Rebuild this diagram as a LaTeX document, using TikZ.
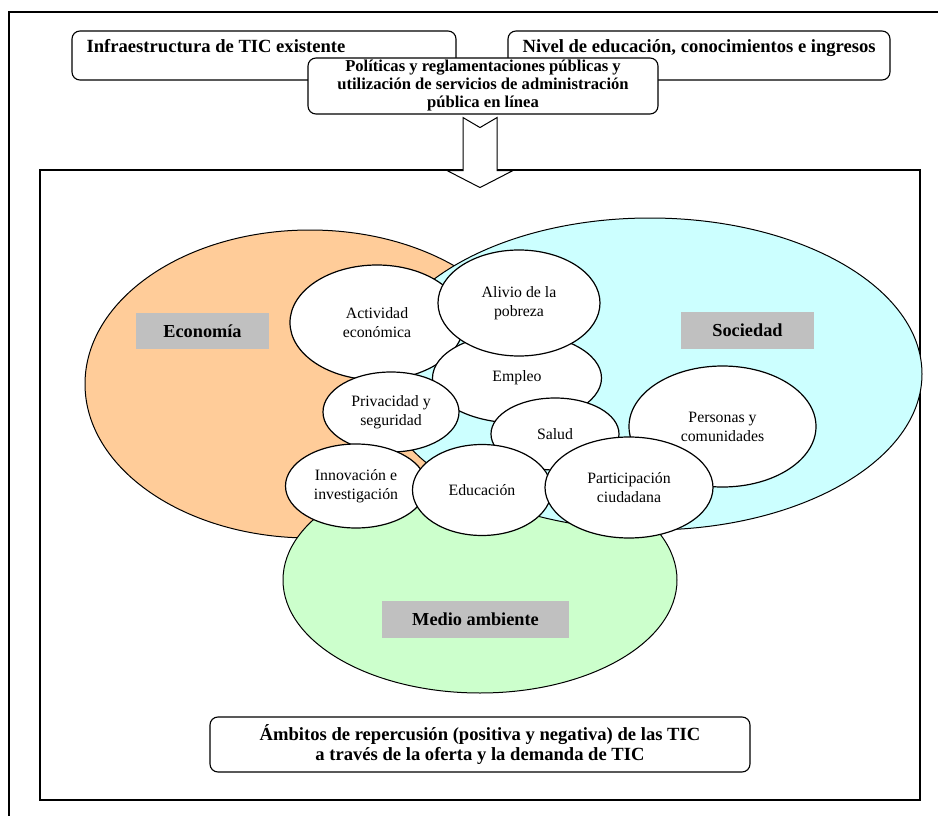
\documentclass[tikz,border=0pt]{standalone}
\usepackage{fontspec}
\setmainfont{Liberation Serif}
\usetikzlibrary{shapes.geometric,calc}
\definecolor{econorange}{HTML}{FFCC99}
\definecolor{socblue}{HTML}{CCFFFF}
\definecolor{medgreen}{HTML}{CCFFCC}
\definecolor{labelgray}{HTML}{C0C0C0}

\begin{document}
\begin{tikzpicture}[x=1pt,y=-1pt,
  frame/.style={line width=2pt},
  roundbox/.style={draw,line width=1.1pt,rounded corners=8pt,fill=white,inner sep=0pt},
  bigtext/.style={font=\bfseries\fontsize{18.6}{20}\selectfont},
  area/.style={draw,line width=1pt},
  bubble/.style={ellipse,draw,line width=1.2pt,fill=white,inner sep=0pt,align=center,font=\fontsize{15.8}{19}\selectfont},
  tag/.style={fill=labelgray,inner sep=0pt,font=\bfseries\fontsize{18.3}{20}\selectfont}]
  \useasboundingbox (0,0) rectangle (938,816);
  \draw[frame] (938,12) -| (9,816);
  % factors on top
  \node[roundbox,minimum width=384pt,minimum height=49pt] (infra) at (264,55.5) {};
  \node[bigtext,anchor=base west,inner sep=0pt] (infratext) at ($(infra.north west)+(15,22)$) {Infraestructura de TIC existente};
  \node[roundbox,minimum width=382pt,minimum height=49pt] (nivel) at (699,55.5) {};
  \node[bigtext,anchor=base west,inner sep=0pt] (niveltext) at ($(nivel.north west)+(15,22)$) {Nivel de educación, conocimientos e ingresos};
  \node[roundbox,minimum width=350pt,minimum height=56pt,align=center,font=\bfseries\fontsize{16.6}{18}\selectfont] (policy) at (483,86)
    {Políticas y reglamentaciones públicas y\\utilización de servicios de administración\\pública en línea};
  % impact frame
  \node[draw,frame,minimum width=880pt,minimum height=630pt,inner sep=0pt] (impact) at (480,485) {};
  \draw[line width=1pt,fill=white] ($(policy.south)+(-20,3)$) -- ++(17,10) -- ++(17,-10) -- ++(0,53) -- ++(16,0)
    -- ++(-33,17) -- ++(-33,-17) -- ++(16,0) -- cycle;
  % three areas
  \draw[area,fill=econorange] (310,384) ellipse [x radius=225,y radius=154];
  \draw[area,fill=medgreen] (480,580) ellipse [x radius=197,y radius=113];
  \draw[area,fill=socblue] (650,374) ellipse [x radius=272,y radius=156];
  \node[tag,minimum width=133pt,minimum height=36pt] (eco) at (202.5,331) {Economía};
  \node[tag,minimum width=133pt,minimum height=37pt] (soc) at (747.5,330.5) {Sociedad};
  \node[tag,minimum width=187pt,minimum height=37pt] (med) at (475.5,619.5) {Medio ambiente};
  % topics
  \node[bubble,minimum width=174pt,minimum height=115pt] (act) at (377,322.5) {Actividad\\económica};
  \node[bubble,minimum width=169pt,minimum height=90pt] (emp) at (517,378) {Empleo};
  \node[bubble,minimum width=162pt,minimum height=106pt] (ali) at (519,303) {Alivio de la\\pobreza};
  \node[bubble,minimum width=136pt,minimum height=80pt] (pri) at (391,412) {Privacidad y\\seguridad};
  \node[bubble,minimum width=141pt,minimum height=84pt] (inn) at (356,486) {Innovación e\\investigación};
  \node[bubble,minimum width=128pt,minimum height=72pt] (sal) at (555,434) {Salud};
  \node[bubble,minimum width=139pt,minimum height=91pt] (edu) at (482,490) {Educación};
  \node[bubble,minimum width=187pt,minimum height=121pt] (per) at (722.5,426.5) {Personas y\\comunidades};
  \node[bubble,minimum width=168pt,minimum height=101pt] (par) at (629,487.5) {Participación\\ciudadana};
  \node[roundbox,bigtext,align=center,minimum width=540pt,minimum height=55pt] (ambitos) at (480,744.5)
    {Ámbitos de repercusión (positiva y negativa) de las TIC\\a través de la oferta y la demanda de TIC};
\end{tikzpicture}
\end{document}
